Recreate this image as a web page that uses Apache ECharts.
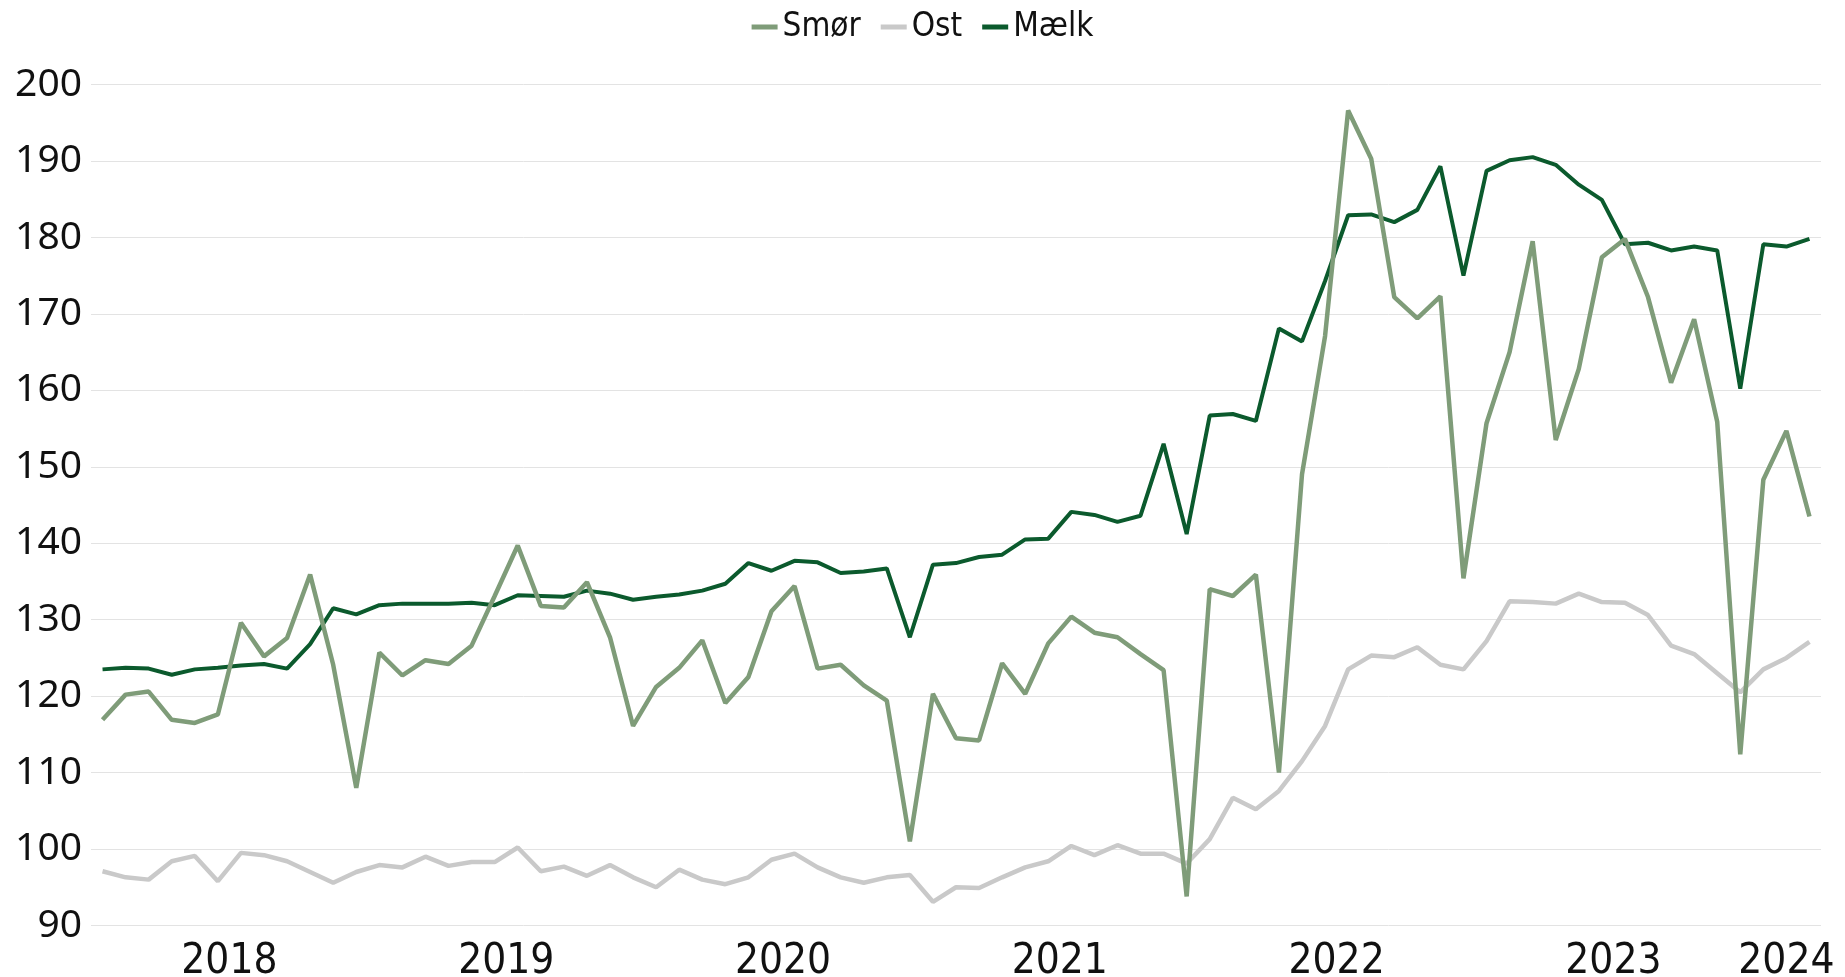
<!DOCTYPE html>
<html>
<head>
<meta charset="utf-8">
<script src="https://cdn.jsdelivr.net/npm/echarts@6/dist/echarts.min.js"></script>
<style>
html,body{margin:0;padding:0;background:#fff;}
#chart{width:1845px;height:977px;}
</style>
</head>
<body>
<div id="chart"></div>
<script>
// Monthly categories
const months = [
 '2017-07','2017-08','2017-09','2017-10','2017-11','2017-12',
 '2018-01','2018-02','2018-03','2018-04','2018-05','2018-06','2018-07','2018-08','2018-09','2018-10','2018-11','2018-12',
 '2019-01','2019-02','2019-03','2019-04','2019-05','2019-06','2019-07','2019-08','2019-09','2019-10','2019-11','2019-12',
 '2020-01','2020-02','2020-03','2020-04','2020-05','2020-06','2020-07','2020-08','2020-09','2020-10','2020-11','2020-12',
 '2021-01','2021-02','2021-03','2021-04','2021-05','2021-06','2021-07','2021-08','2021-09','2021-10','2021-11','2021-12',
 '2022-01','2022-02','2022-03','2022-04','2022-05','2022-06','2022-07','2022-08','2022-09','2022-10','2022-11','2022-12',
 '2023-01','2023-02','2023-03','2023-04','2023-05','2023-06','2023-07','2023-08','2023-09'
];

const smor = [116.9,120.2,120.6,116.9,116.5,117.6,129.6,125.2,127.6,135.9,124.1,108.0,125.7,122.7,124.7,124.2,126.6,133.1,139.7,131.8,131.6,134.9,127.7,116.1,121.2,123.7,127.3,119.1,122.5,131.1,134.4,123.6,124.1,121.4,119.4,101.0,120.3,114.5,114.2,124.3,120.3,126.9,130.4,128.3,127.7,125.5,123.4,93.8,134.0,133.1,135.9,110.0,149.0,167.1,196.6,190.3,172.2,169.4,172.3,135.4,155.7,165.0,179.5,153.5,162.8,177.4,179.8,172.2,161.0,169.3,155.9,112.4,148.3,154.7,143.5];

const ost = [97.1,96.3,96.0,98.4,99.1,95.8,99.5,99.2,98.4,97.0,95.6,97.0,97.9,97.6,99.0,97.8,98.3,98.3,100.2,97.1,97.7,96.5,97.9,96.3,95.0,97.3,96.0,95.4,96.3,98.6,99.4,97.6,96.3,95.6,96.3,96.6,93.1,95.0,94.9,96.3,97.6,98.4,100.4,99.2,100.5,99.4,99.4,98.1,101.3,106.7,105.2,107.6,111.5,116.1,123.5,125.3,125.1,126.4,124.1,123.5,127.2,132.4,132.3,132.1,133.4,132.3,132.2,130.6,126.6,125.5,123.0,120.5,123.5,125.0,127.1];

const maelk = [123.5,123.7,123.6,122.8,123.5,123.7,124.0,124.2,123.6,126.8,131.5,130.7,131.9,132.1,132.1,132.1,132.2,131.9,133.2,133.1,133.0,133.8,133.4,132.6,133.0,133.3,133.8,134.7,137.4,136.4,137.7,137.5,136.1,136.3,136.7,127.7,137.2,137.4,138.2,138.5,140.5,140.6,144.1,143.7,142.8,143.6,153.0,141.2,156.7,156.9,156.0,168.1,166.4,174.3,182.9,183.0,182.0,183.6,189.3,175.0,188.7,190.1,190.5,189.5,186.9,184.9,179.1,179.3,178.3,178.8,178.3,160.2,179.1,178.8,179.8];

const yearLabels = ['2018','2019','2020','2021','2022','2023','2024'];
const seriesNames = ['Smør','Ost','Mælk'];

// Year label positions: at the start of each year (between Dec and Jan);
// a year beyond the data is pinned near the right end.
const yearPos = {};
yearLabels.forEach(y => {
  const idx = months.indexOf(y + '-01');
  const p = idx >= 0 ? idx - 0.5 : months.length - 2;
  yearPos[p] = y;
});
const yearTicks = Object.keys(yearPos).map(Number);

const chart = echarts.init(document.getElementById('chart'));
const gridColor = '#e3e3e3';
const narrow = 'Liberation Sans Narrow, DejaVu Sans Condensed, sans-serif';
chart.setOption({
  animation: false,
  backgroundColor: '#ffffff',
  legend: {
    top: 4,
    left: 'center',
    data: seriesNames,
    icon: 'rect',
    itemWidth: 26,
    itemHeight: 5,
    itemGap: 20,
    textStyle: { fontFamily: narrow, fontSize: 33, color: '#111', lineHeight: 36 }
  },
  grid: { left: 91, right: 24, top: 84.5, bottom: 51.5, containLabel: false, outerBoundsMode: 'none' },
  xAxis: [
    {
      type: 'category',
      data: months,
      boundaryGap: true,
      axisLine: { show: false },
      axisTick: { show: false },
      axisLabel: { show: false },
      splitLine: { show: false }
    },
    {
      type: 'value',
      min: -0.5,
      max: months.length - 0.5,
      position: 'bottom',
      axisLine: { show: false },
      axisTick: { show: false },
      splitLine: { show: false },
      axisLabel: {
        customValues: yearTicks,
        formatter: v => yearPos[v] || '',
        fontFamily: narrow,
        fontSize: 42,
        lineHeight: 42,
        margin: 16,
        color: '#111'
      }
    }
  ],
  yAxis: {
    type: 'value',
    min: 90,
    max: 200,
    interval: 10,
    axisLine: { show: false },
    axisTick: { show: false },
    splitLine: { lineStyle: { color: gridColor, width: 1 } },
    axisLabel: {
      fontFamily: 'Noto Sans, sans-serif',
      fontSize: 39,
      margin: 9,
      color: '#111'
    }
  },
  series: [
    { name: 'Smør', type: 'line', data: smor, xAxisIndex: 0, symbol: 'none', z: 4,
      lineStyle: { color: '#7f9c79', width: 4.5 }, itemStyle: { color: '#7f9c79' } },
    { name: 'Ost', type: 'line', data: ost, xAxisIndex: 0, symbol: 'none', z: 2,
      lineStyle: { color: '#c9c9c9', width: 4.5 }, itemStyle: { color: '#c9c9c9' } },
    { name: 'Mælk', type: 'line', data: maelk, xAxisIndex: 0, symbol: 'none', z: 3,
      lineStyle: { color: '#0b5a2d', width: 4 }, itemStyle: { color: '#0b5a2d' } }
  ]
});
</script>
</body>
</html>
